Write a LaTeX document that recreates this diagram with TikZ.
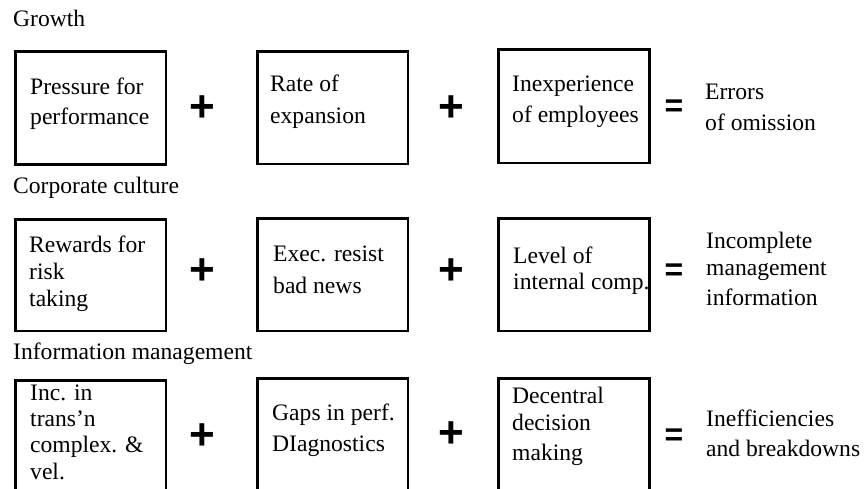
\documentclass[tikz,border=0pt]{standalone}
\usepackage{fontspec}
\setmainfont{Liberation Serif}
\newfontfamily\opfont{Liberation Sans Bold}
% one text line, set on its baseline
\newcommand\txtline[4]{\node[txt] (#1) at (#2,#3) {#4};}
\begin{document}
\begin{tikzpicture}[x=1pt,y=-1pt,
  box/.style={draw=black,line width=2.6pt,inner sep=0pt,anchor=north west},
  txt/.style={anchor=base west,inner sep=0pt,font=\fontsize{23.6}{28}\selectfont},
  plusop/.style={inner sep=0pt,anchor=center,font=\opfont\fontsize{44}{48}\selectfont},
  eqop/.style={inner sep=0pt,anchor=center,font=\opfont\fontsize{32}{36}\selectfont}]
\useasboundingbox (0,0) rectangle (864,489);
\clip (0,0) rectangle (864,489);
\fill[white] (0,0) rectangle (864,489);

% ---------- Growth ----------
\txtline{growth}{13}{26.7}{Growth}
\node[box,minimum width=150.7pt,minimum height=113pt] (g1) at (14,50.3) {};
\node[box,minimum width=150.4pt,minimum height=112.5pt] (g2) at (256.3,50.3) {};
\node[box,minimum width=151pt,minimum height=113.4pt] (g3) at (497,48.3) {};
\txtline{g1a}{30}{94.3}{Pressure for}
\txtline{g1b}{30}{125}{performance}
\txtline{g2a}{270}{91.7}{Rate of}
\txtline{g2b}{270}{123.3}{expansion}
\txtline{g3a}{512}{91.7}{Inexperience}
\txtline{g3b}{512}{122.7}{of employees}
\node[plusop] (gp1) at (202.3,108.3) {+};
\node[plusop] (gp2) at (451.7,108.3) {+};
\node[eqop] (geq) at (674,108) {=};
\txtline{gra}{705}{100}{Errors}
\txtline{grb}{705}{131}{of omission}

% ---------- Corporate culture ----------
\txtline{culture}{13}{193.3}{Corporate culture}
\node[box,minimum width=150.7pt,minimum height=111.7pt] (c1) at (14,218) {};
\node[box,minimum width=150.4pt,minimum height=112.7pt] (c2) at (256.3,217) {};
\node[box,minimum width=151pt,minimum height=112.7pt] (c3) at (497,217) {};
\txtline{c1a}{29}{252.7}{Rewards for}
\txtline{c1b}{29}{279.3}{risk}
\txtline{c1c}{29}{306.7}{taking}
\txtline{c2a}{273}{261.7}{Exec. resist}
\txtline{c2b}{273}{293.3}{bad news}
\txtline{c3a}{513}{263.3}{Level of}
\txtline{c3b}{513}{289}{internal comp.}
\node[plusop] (cp1) at (202.3,271.7) {+};
\node[plusop] (cp2) at (451.7,271.7) {+};
\node[eqop] (ceq) at (674,271.7) {=};
\txtline{cra}{706}{248.3}{Incomplete}
\txtline{crb}{706}{275}{management}
\txtline{crc}{706}{305.7}{information}

% ---------- Information management ----------
\txtline{infomgmt}{13}{359.3}{Information management}
\node[box,minimum width=150.7pt,minimum height=130pt] (i1) at (14,379) {};
\node[box,minimum width=150.4pt,minimum height=130pt] (i2) at (256.3,377) {};
\node[box,minimum width=151pt,minimum height=130pt] (i3) at (497,377) {};
\txtline{i1a}{30}{400}{Inc. in}
\txtline{i1b}{30}{426}{trans’n}
\txtline{i1c}{30}{452.7}{complex. \&}
\txtline{i1d}{30}{479.3}{vel.}
\txtline{i2a}{272}{420}{Gaps in perf.}
\txtline{i2b}{272}{451.7}{DIagnostics}
\txtline{i3a}{512}{403.3}{Decentral}
\txtline{i3b}{512}{430}{decision}
\txtline{i3c}{512}{460}{making}
\node[plusop] (ip1) at (202.3,436.7) {+};
\node[plusop] (ip2) at (451.7,435) {+};
\node[eqop] (ieq) at (674,436.7) {=};
\txtline{ira}{706}{426}{Inefficiencies}
\txtline{irb}{706}{456}{and breakdowns}
\end{tikzpicture}
\end{document}
